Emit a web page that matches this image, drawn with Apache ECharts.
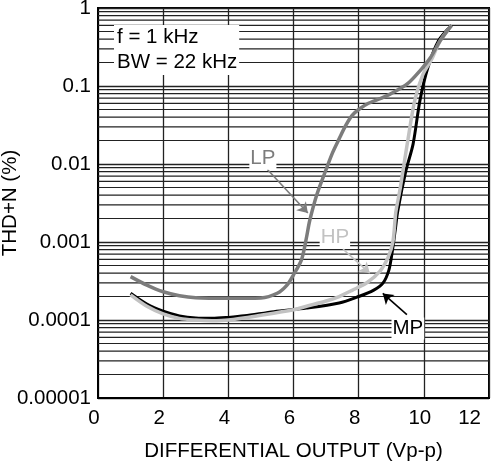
<!DOCTYPE html>
<html><head><meta charset="utf-8">
<script src="https://cdn.jsdelivr.net/npm/echarts@6/dist/echarts.min.js"></script>
<style>html,body{margin:0;padding:0;background:#fff}#c{width:496px;height:472px}</style>
</head><body><div id="c"></div>
<script>
// ---- data ----
const xTicks = [0, 2, 4, 6, 8, 10, 12];
const yTickLabels = ['0.00001', '0.0001', '0.001', '0.01', '0.1', '1'];
const decades = [0.00001, 0.0001, 0.001, 0.01, 0.1];
const minorMultipliers = [2, 3, 4, 5, 6, 7, 8, 9];

const lpData = [[1.0,3.6e-4],[1.5,2.8e-4],[2.0,2.3e-4],[2.5,2.05e-4],[3.0,1.93e-4],[4.0,1.9e-4],[5.0,1.92e-4],[5.5,2.2e-4],[5.8,2.8e-4],[6.0,3.8e-4],[6.25,6.0e-4],[6.4,1.15e-3],[6.5,1.9e-3],[6.72,4.1e-3],[7.0,8.5e-3],[7.2,1.4e-2],[7.4,0.021],[7.6,0.031],[7.8,0.042],[8.0,0.05],[8.3,0.06],[8.7,0.07],[9.0,0.08],[9.5,0.107],[9.9,0.16],[10.2,0.23],[10.5,0.38],[10.85,0.6]];
const hpData = [[1.0,2.1e-4],[1.5,1.5e-4],[2.0,1.2e-4],[2.5,1.05e-4],[3.0,1.0e-4],[3.5,0.98e-4],[4.0,1.0e-4],[5.0,1.15e-4],[6.0,1.35e-4],[6.4,1.5e-4],[7.0,1.75e-4],[7.4,2.0e-4],[7.8,2.4e-4],[8.25,3.0e-4],[8.65,4.2e-4],[8.9,6.3e-4],[9.05,1.0e-3],[9.14,2.4e-3],[9.26,4.5e-3],[9.36,8.2e-3],[9.49,0.018],[9.72,0.065],[9.97,0.14],[10.24,0.22],[10.5,0.38],[10.85,0.6]];
const mpData = [[1.0,2.2e-4],[1.5,1.6e-4],[2.0,1.3e-4],[2.5,1.13e-4],[3.0,1.06e-4],[3.5,1.05e-4],[4.0,1.08e-4],[4.5,1.13e-4],[5.4,1.28e-4],[6.4,1.42e-4],[7.4,1.65e-4],[8.0,2.0e-4],[8.45,2.4e-4],[8.75,3.0e-4],[8.93,4.4e-4],[9.03,7.5e-4],[9.12,1.4e-3],[9.2,2.5e-3],[9.45,8.2e-3],[9.67,0.018],[9.88,0.065],[10.12,0.17],[10.45,0.38],[10.85,0.6]];

// annotation anchors (data coordinates)
const lpLabelAt = [5.06, 0.0117], lpArrowFrom = [5.2, 0.0085], lpArrowTo = [6.44, 0.00235];
const hpLabelAt = [7.27, 0.00115], hpArrowFrom = [7.52, 0.00081], hpArrowTo = [8.34, 0.0004];
const mpLabelAt = [9.51, 0.000078], mpArrowFrom = [9.48, 0.000117], mpArrowTo = [8.74, 0.000219];
const noteText = ['f = 1 kHz', 'BW = 22 kHz'];

// ---- chart ----
const FONT = "'Liberation Sans', Arial, Helvetica, sans-serif";
const FS = 20.5;
const X0 = xTicks[0], X1 = xTicks[xTicks.length - 1];

const gridSeries = [];
decades.forEach(d => minorMultipliers.forEach(m => {
  const v = d * m;
  gridSeries.push({ type: 'line', data: [[X0, v], [X1, v]], z: 1, silent: true, showSymbol: false,
    symbol: 'none', lineStyle: { color: '#222', width: 1.2 }, tooltip: { show: false } });
}));

function annot(name, color, labelAt, from, to) {
  return {
    markLine: {
      silent: true, animation: false,
      symbol: ['none', 'arrow'], symbolSize: 10,
      label: { show: false },
      lineStyle: { color: color, width: 1.6, type: 'solid' },
      data: [[{ coord: from }, { coord: to }]]
    },
    markPoint: {
      silent: true, animation: false,
      symbol: 'rect', symbolSize: 1, itemStyle: { color: 'rgba(0,0,0,0)' },
      label: { show: true, position: 'inside', formatter: name, color: color, fontSize: FS, fontFamily: FONT,
        backgroundColor: '#fff', padding: [1, 1, 0, 1] },
      data: [{ coord: labelAt, value: name }]
    }
  };
}

const chart = echarts.init(document.getElementById('c'), null, { renderer: 'canvas' });
chart.setOption({
  animation: false,
  backgroundColor: '#fff',
  title: {
    text: noteText.join('\n'), left: 114, top: 25,
    backgroundColor: '#fff', padding: [0, 2, 0, 3],
    textStyle: { fontSize: FS, fontWeight: 'normal', color: '#000', fontFamily: FONT, lineHeight: 25 }
  },
  grid: { left: 98, right: 7, top: 8, bottom: 74, containLabel: false, outerBoundsMode: 'none',
    show: true, borderColor: '#000', borderWidth: 2, backgroundColor: 'transparent' },
  xAxis: {
    type: 'value', min: X0, max: X1, interval: 2,
    name: 'DIFFERENTIAL OUTPUT (Vp-p)', nameLocation: 'middle', nameGap: 43, nameMoveOverlap: false,
    nameTextStyle: { fontSize: FS, color: '#000', fontFamily: FONT },
    axisLine: { show: true, lineStyle: { color: '#000', width: 2 } },
    axisTick: { show: false },
    axisLabel: { fontSize: FS, color: '#000', fontFamily: FONT, margin: 10, padding: [0, 8, 0, 0], alignMaxLabel: 'right' },
    splitLine: { show: true, lineStyle: { color: '#222', width: 1.3 } }
  },
  yAxis: {
    type: 'log', logBase: 10, min: decades[0], max: 1,
    name: 'THD+N (%)', nameLocation: 'middle', nameGap: 77, nameRotate: 90, nameMoveOverlap: false,
    nameTextStyle: { fontSize: FS, color: '#000', fontFamily: FONT },
    axisLine: { show: true, lineStyle: { color: '#000', width: 2 } },
    axisTick: { show: false },
    axisLabel: { fontSize: FS, color: '#000', fontFamily: FONT, margin: 7,
      formatter: v => yTickLabels[Math.round(Math.log10(v)) + 5] },
    splitLine: { show: true, lineStyle: { color: '#222', width: 1.3 } }
  },
  series: gridSeries.concat([
    Object.assign({ name: 'MP', type: 'line', data: mpData, z: 3, smooth: 0.3, showSymbol: false,
      lineStyle: { color: '#000', width: 3 } }, annot('MP', '#000', mpLabelAt, mpArrowFrom, mpArrowTo)),
    Object.assign({ name: 'HP', type: 'line', data: hpData, z: 4, smooth: 0.3, showSymbol: false,
      lineStyle: { color: '#c2c2c2', width: 3.5 } }, annot('HP', '#c2c2c2', hpLabelAt, hpArrowFrom, hpArrowTo)),
    Object.assign({ name: 'LP', type: 'line', data: lpData, z: 5, smooth: 0.3, showSymbol: false,
      lineStyle: { color: '#7c7c7c', width: 3.5 } }, annot('LP', '#7c7c7c', lpLabelAt, lpArrowFrom, lpArrowTo))
  ])
});
</script></body></html>
